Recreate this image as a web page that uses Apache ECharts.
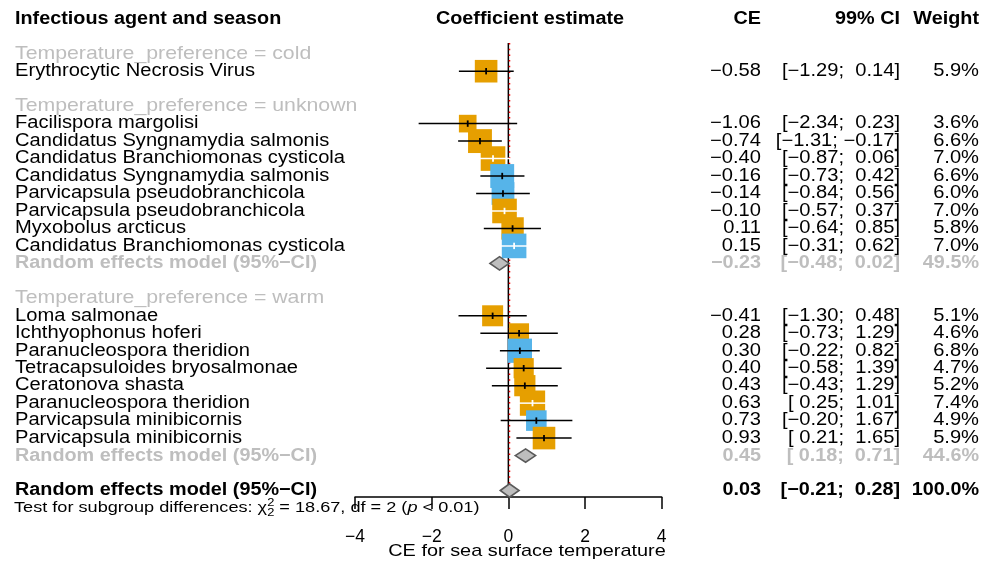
<!DOCTYPE html>
<html><head><meta charset="utf-8">
<script src="https://cdn.jsdelivr.net/npm/echarts@6/dist/echarts.min.js"></script>
<style>html,body{margin:0;padding:0;background:#fff}#c{width:992px;height:569px}</style>
</head><body><div id="c"></div>
<script>
// ---------------- data ----------------
const columnHeaders = ['Infectious agent and season', 'Coefficient estimate', 'CE', '99% CI', 'Weight'];
const groupLabels = ['Temperature_preference = cold', 'Temperature_preference = unknown', 'Temperature_preference = warm'];
const randomLabel = 'Random effects model (95%\u2212CI)';

const coldNames = ['Erythrocytic Necrosis Virus'];
const coldCE = [-0.58];
const coldLower = [-1.29];
const coldUpper = [0.14];
const coldWeight = [5.9];
const coldMarker = [0];

const unknownNames = ['Facilispora margolisi', 'Candidatus Syngnamydia salmonis', 'Candidatus Branchiomonas cysticola',
  'Candidatus Syngnamydia salmonis', 'Parvicapsula pseudobranchicola', 'Parvicapsula pseudobranchicola',
  'Myxobolus arcticus', 'Candidatus Branchiomonas cysticola'];
const unknownCE = [-1.06, -0.74, -0.40, -0.16, -0.14, -0.10, 0.11, 0.15];
const unknownLower = [-2.34, -1.31, -0.87, -0.73, -0.84, -0.57, -0.64, -0.31];
const unknownUpper = [0.23, -0.17, 0.06, 0.42, 0.56, 0.37, 0.85, 0.62];
const unknownWeight = [3.6, 6.6, 7.0, 6.6, 6.0, 7.0, 5.8, 7.0];
const unknownMarker = [0, 0, 0, 1, 1, 0, 0, 1];
const unknownRandom = [-0.23, -0.48, 0.02, 49.5];   // CE, lower, upper, weight

const warmNames = ['Loma salmonae', 'Ichthyophonus hoferi', 'Paranucleospora theridion', 'Tetracapsuloides bryosalmonae',
  'Ceratonova shasta', 'Paranucleospora theridion', 'Parvicapsula minibicornis', 'Parvicapsula minibicornis'];
const warmCE = [-0.41, 0.28, 0.30, 0.40, 0.43, 0.63, 0.73, 0.93];
const warmLower = [-1.30, -0.73, -0.22, -0.58, -0.43, 0.25, -0.20, 0.21];
const warmUpper = [0.48, 1.29, 0.82, 1.39, 1.29, 1.01, 1.67, 1.65];
const warmWeight = [5.1, 4.6, 6.8, 4.7, 5.2, 7.4, 4.9, 5.9];
const warmMarker = [0, 0, 1, 0, 0, 0, 1, 0];
const warmRandom = [0.45, 0.18, 0.71, 44.6];

const overallRandom = [0.03, -0.21, 0.28, 100.0];
const xTicks = [-4, -2, 0, 2, 4];
const xAxisTitle = 'CE for sea surface temperature';
const nullValue = 0;
const testChi2 = '18.67';
const testDf = '2';
const testP = '< 0.01';

// ---------------- layout / style ----------------
const FONT = '"Liberation Sans", Arial, Helvetica, sans-serif';
const ROW0 = 18.8, ROWH = 17.47, NROWS = 28;
const PLOT_LEFT = 355, PLOT_RIGHT = 661.7, PLOT_TOP = 43, PLOT_BOTTOM = 497;
const COL_NAME = 15, COL_HEAD = 530, COL_CE = 761, COL_CI = 900, COL_W = 979;
const GREY = '#BEBEBE';
const markerColours = ['#E69F00', '#56B4E9'];
const SQ_K = 9.3;

const fmt = v => (v < 0 ? '\u2212' : '') + Math.abs(v).toFixed(2);
const fmtPad = v => (v < 0 ? '\u2212' : ' ') + Math.abs(v).toFixed(2);
const fmtCI = (l, u) => '[' + fmtPad(l) + '; ' + fmtPad(u) + ']';
const fmtW = w => w.toFixed(1) + '%';

const BODY = {size: 17.5, bold: false, sx: 1.15, color: '#000'};
const HEAD = {size: 18.5, bold: false, sx: 1.15, color: GREY};
const BOLD = {size: 18, bold: true, sx: 1.1, color: '#000'};
const GBOLD = {size: 18, bold: true, sx: 1.1, color: GREY};

const textItems = [];
const studies = [];
const diamonds = [];
function addText(row, x, text, align, st) {
  textItems.push(Object.assign({row, x, text, align}, st));
}
// header
addText(0, COL_NAME, columnHeaders[0], 'left', BOLD);
addText(0, COL_HEAD, columnHeaders[1], 'center', BOLD);
addText(0, COL_CE, columnHeaders[2], 'right', BOLD);
addText(0, COL_CI, columnHeaders[3], 'right', BOLD);
addText(0, COL_W, columnHeaders[4], 'right', BOLD);

const groups = [
  {label: groupLabels[0], names: coldNames, ce: coldCE, lo: coldLower, hi: coldUpper, w: coldWeight, m: coldMarker, rnd: null},
  {label: groupLabels[1], names: unknownNames, ce: unknownCE, lo: unknownLower, hi: unknownUpper, w: unknownWeight, m: unknownMarker, rnd: unknownRandom},
  {label: groupLabels[2], names: warmNames, ce: warmCE, lo: warmLower, hi: warmUpper, w: warmWeight, m: warmMarker, rnd: warmRandom}
];
let r = 2;
groups.forEach(g => {
  addText(r, COL_NAME, g.label, 'left', HEAD);
  r++;
  g.names.forEach((n, i) => {
    addText(r, COL_NAME, n, 'left', BODY);
    addText(r, COL_CE, fmt(g.ce[i]), 'right', BODY);
    addText(r, COL_CI, fmtCI(g.lo[i], g.hi[i]), 'right', BODY);
    addText(r, COL_W, fmtW(g.w[i]), 'right', BODY);
    studies.push([g.ce[i], g.lo[i], g.hi[i], g.w[i], r, g.m[i]]);
    r++;
  });
  if (g.rnd) {
    addText(r, COL_NAME, randomLabel, 'left', GBOLD);
    addText(r, COL_CE, fmt(g.rnd[0]), 'right', GBOLD);
    addText(r, COL_CI, fmtCI(g.rnd[1], g.rnd[2]), 'right', GBOLD);
    addText(r, COL_W, fmtW(g.rnd[3]), 'right', GBOLD);
    diamonds.push([g.rnd[0], g.rnd[1], g.rnd[2], r]);
    r++;
  }
  r++;
});
addText(r, COL_NAME, randomLabel, 'left', BOLD);
addText(r, COL_CE, fmt(overallRandom[0]), 'right', BOLD);
addText(r, COL_CI, fmtCI(overallRandom[1], overallRandom[2]), 'right', BOLD);
addText(r, COL_W, fmtW(overallRandom[3]), 'right', BOLD);
diamonds.push([overallRandom[0], overallRandom[1], overallRandom[2], r]);
r++;
const testRow = r;
const titleRow = (551.7 - ROW0) / ROWH;
addText(titleRow, 527, xAxisTitle, 'center', {size: 17, bold: false, sx: 1.17, color: '#000'});

// measurement helper
const mctx = document.createElement('canvas').getContext('2d');
function tw(text, size, italic) {
  mctx.font = (italic ? 'italic ' : '') + size + 'px ' + FONT;
  return mctx.measureText(text).width;
}
// subgroup test line pieces
const TS = 15.5, TSS = 11;
const tParts = [];
(function () {
  let x = 0;
  const p1 = 'Test for subgroup differences: \u03c7';
  tParts.push({x, dy: 0, text: p1, size: TS}); x += tw(p1, TS);
  tParts.push({x, dy: -5, text: '2', size: TSS});
  tParts.push({x, dy: 5, text: '2', size: TSS}); x += tw('2', TSS);
  const p2 = ' = ' + testChi2 + ', df = ' + testDf + ' (';
  tParts.push({x, dy: 0, text: p2, size: TS}); x += tw(p2, TS);
  tParts.push({x, dy: 0, text: 'p', size: TS, italic: true}); x += tw('p', TS, true);
  tParts.push({x, dy: 0, text: ' ' + testP + ')', size: TS});
})();

const yMin = (PLOT_TOP - ROW0) / ROWH, yMax = (PLOT_BOTTOM - ROW0) / ROWH;

const chart = echarts.init(document.getElementById('c'), null, {renderer: 'canvas'});
chart.setOption({
  animation: false,
  backgroundColor: '#fff',
  grid: [
    {left: 0, width: 992, top: ROW0, height: NROWS * ROWH, outerBoundsMode: 'none'},
    {left: PLOT_LEFT, width: PLOT_RIGHT - PLOT_LEFT, top: PLOT_TOP, height: PLOT_BOTTOM - PLOT_TOP, outerBoundsMode: 'none'}
  ],
  xAxis: [
    {gridIndex: 0, type: 'value', min: 0, max: 992, show: false},
    {gridIndex: 1, type: 'value', min: xTicks[0], max: xTicks[xTicks.length - 1], interval: 2,
      axisLine: {show: true, onZero: false, lineStyle: {color: '#000', width: 1.5}},
      axisTick: {show: true, inside: false, length: 12, lineStyle: {color: '#000', width: 1.5}},
      axisLabel: {show: true, margin: 31, color: '#000', fontSize: 17.5, fontFamily: FONT,
        formatter: v => (v < 0 ? '\u2212' : '') + Math.abs(v)},
      splitLine: {show: false}}
  ],
  yAxis: [
    {gridIndex: 0, type: 'value', min: 0, max: NROWS, inverse: true, show: false},
    {gridIndex: 1, type: 'value', min: yMin, max: yMax, inverse: true, show: false}
  ],
  series: [
    { // reference lines
      type: 'custom', xAxisIndex: 1, yAxisIndex: 1, silent: true,
      data: [[nullValue], [overallRandom[0]]],
      renderItem(params, api) {
        const v = api.value(0);
        const a = api.coord([v, yMin]), b = api.coord([v, yMax]);
        const dotted = params.dataIndex === 1;
        return {type: 'line', shape: {x1: a[0], y1: a[1], x2: b[0], y2: b[1]},
          style: dotted ? {stroke: '#FF0000', lineWidth: 1.5, lineDash: [1.5, 4.2]} : {stroke: '#000', lineWidth: 1.5}};
      }
    },
    { // study squares with CIs
      type: 'custom', xAxisIndex: 1, yAxisIndex: 1, silent: true,
      data: studies,
      renderItem(params, api) {
        const ce = api.value(0), lo = api.value(1), hi = api.value(2), w = api.value(3), row = api.value(4), m = api.value(5);
        const c = api.coord([ce, row]), l = api.coord([lo, row]), h = api.coord([hi, row]);
        const s = SQ_K * Math.sqrt(w);
        const inside = w >= 7;
        const ln = inside ? '#FFFFFF' : '#000000';
        return {type: 'group', children: [
          {type: 'rect', shape: {x: c[0] - s / 2, y: c[1] - s / 2, width: s, height: s}, style: {fill: markerColours[m]}},
          {type: 'line', shape: {x1: l[0], y1: c[1], x2: h[0], y2: c[1]}, style: {stroke: ln, lineWidth: 1.5}},
          {type: 'line', shape: {x1: c[0], y1: c[1] - 3.2, x2: c[0], y2: c[1] + 3.2}, style: {stroke: ln, lineWidth: 1.8}}
        ]};
      }
    },
    { // diamonds
      type: 'custom', xAxisIndex: 1, yAxisIndex: 1, silent: true,
      data: diamonds,
      renderItem(params, api) {
        const ce = api.value(0), lo = api.value(1), hi = api.value(2), row = api.value(3);
        const c = api.coord([ce, row]), l = api.coord([lo, row]), h = api.coord([hi, row]);
        const hh = 6.7;
        return {type: 'polygon', shape: {points: [[l[0], c[1]], [c[0], c[1] - hh], [h[0], c[1]], [c[0], c[1] + hh]]},
          style: {fill: '#BEBEBE', stroke: '#5A5A5A', lineWidth: 1.6}};
      }
    },
    { // texts
      type: 'custom', xAxisIndex: 0, yAxisIndex: 0, silent: true,
      data: textItems.map(t => [t.x, t.row]),
      renderItem(params, api) {
        const it = textItems[params.dataIndex];
        const p = api.coord([api.value(0), api.value(1)]);
        return {type: 'text', x: p[0], y: p[1], scaleX: it.sx,
          style: {text: it.text, fill: it.color, fontSize: it.size, fontWeight: it.bold ? 'bold' : 'normal',
            fontFamily: FONT, align: it.align, verticalAlign: 'middle'}};
      }
    },
    { // subgroup test line
      type: 'custom', xAxisIndex: 0, yAxisIndex: 0, silent: true,
      data: [[14, testRow]],
      renderItem(params, api) {
        const p = api.coord([api.value(0), api.value(1)]);
        return {type: 'group', x: p[0], y: p[1], scaleX: 1.17, children: tParts.map(t => ({
          type: 'text', x: t.x, y: t.dy,
          style: {text: t.text, fill: '#000', fontSize: t.size, fontStyle: t.italic ? 'italic' : 'normal',
            fontFamily: FONT, align: 'left', verticalAlign: 'middle'}}))};
      }
    }
  ]
});
</script></body></html>
